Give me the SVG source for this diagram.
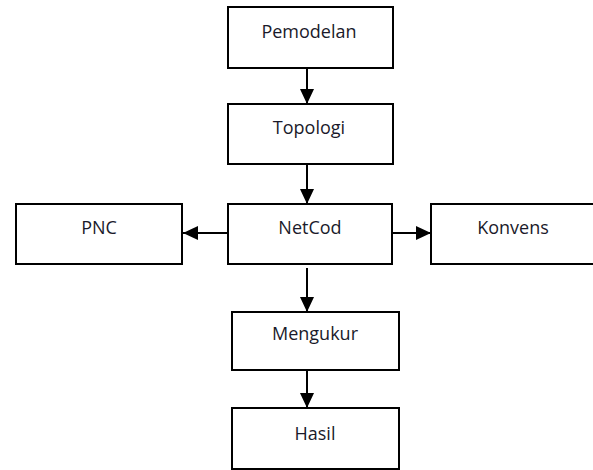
<svg xmlns="http://www.w3.org/2000/svg" width="593" height="470" viewBox="0 0 593 470">
<style>
.box{fill:#fff;stroke:#000;stroke-width:2}
.lbl{font-family:"Open Sans","Liberation Sans",sans-serif;font-size:18px;fill:#1a1a2a;text-anchor:middle}
.conn{stroke:#000;stroke-width:2;fill:none}
</style>
<defs>
<marker id="ah" markerUnits="userSpaceOnUse" markerWidth="16" markerHeight="16" viewBox="0 0 16 16" refX="15" refY="8" orient="auto">
<path d="M0,1 L15,8 L0,15 Z" fill="#000"/>
</marker>
</defs>
<rect width="593" height="470" fill="#fff"/>
<g id="connectors">
<line class="conn" x1="307" y1="68" x2="307" y2="104" marker-end="url(#ah)"/>
<line class="conn" x1="307" y1="164" x2="307" y2="204" marker-end="url(#ah)"/>
<line class="conn" x1="228" y1="233" x2="183" y2="233" marker-end="url(#ah)"/>
<line class="conn" x1="392" y1="233" x2="431" y2="233" marker-end="url(#ah)"/>
<line class="conn" x1="307" y1="268" x2="307" y2="312" marker-end="url(#ah)"/>
<line class="conn" x1="307" y1="370" x2="307" y2="408" marker-end="url(#ah)"/>
</g>
<g id="pemodelan"><rect class="box" x="228" y="7" width="165" height="61"/><text class="lbl" x="309" y="38">Pemodelan</text></g>
<g id="topologi"><rect class="box" x="228" y="104" width="165" height="60"/><text class="lbl" x="309" y="134">Topologi</text></g>
<g id="netcod"><rect class="box" x="228" y="204" width="164" height="60"/><text class="lbl" x="310" y="234">NetCod</text></g>
<g id="pnc"><rect class="box" x="16" y="204" width="166" height="60"/><text class="lbl" x="99" y="234">PNC</text></g>
<g id="konvens"><rect class="box" x="431" y="204" width="170" height="60"/><text class="lbl" x="513" y="234">Konvens</text></g>
<g id="mengukur"><rect class="box" x="232" y="312" width="167" height="58"/><text class="lbl" x="315" y="340">Mengukur</text></g>
<g id="hasil"><rect class="box" x="232" y="408" width="167" height="61"/><text class="lbl" x="315" y="440">Hasil</text></g>
</svg>
